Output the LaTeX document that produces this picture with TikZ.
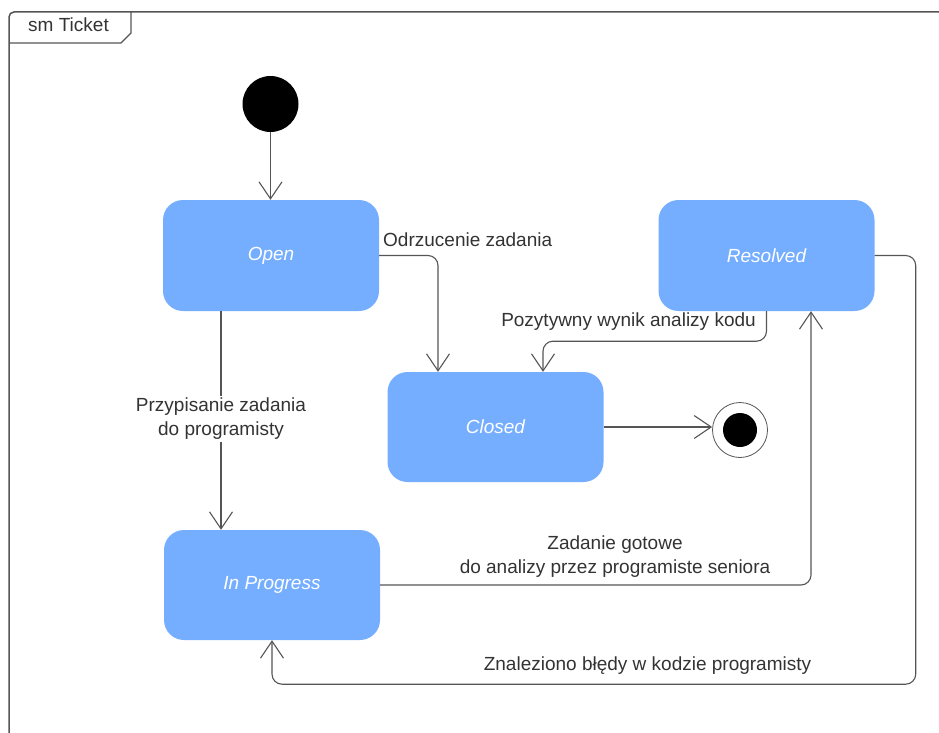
\documentclass[tikz,border=0pt]{standalone}
\usepackage{fontspec}
\setmainfont{Liberation Sans}
\usetikzlibrary{arrows.meta}
\definecolor{statefill}{RGB}{117,174,255}
\definecolor{linegray}{RGB}{85,85,85}
\definecolor{textgray}{RGB}{51,51,51}

\begin{document}
\begin{tikzpicture}[x=1pt,y=-1pt,
  every node/.style={font=\fontsize{19}{24}\selectfont, inner sep=0pt},
  statebox/.style={rectangle, rounded corners=20pt, fill=statefill, text=white,
    font=\fontsize{19}{24}\selectfont\itshape, minimum width=216pt, minimum height=111pt},
  trans/.style={draw=linegray, line width=1.1pt, rounded corners=10pt,
    -{Straight Barb[length=17pt,width=23pt]}},
  lbl/.style={text=textgray, align=center},
]
\useasboundingbox (0,0) rectangle (939,733);
\clip (0,0) rectangle (939,733);

% diagram frame with its name tab
\draw[linegray, line width=1.5pt, rounded corners=5pt] (9,760) -- (9,12) -- (960,12);
\draw[linegray, line width=1.2pt] (9,43) -- (121,43) -- (131,33) -- (131,12);
\node[text=textgray] (frameName) at (68.5,25) {sm Ticket};

% states
\node[statebox] (open) at (271,255.5) {Open};
\node[statebox] (resolved) at (766.5,255.5) {Resolved};
\node[statebox, minimum height=110pt] (closed) at (495.5,427) {Closed};
\node[statebox, minimum height=110pt] (progress) at (272,585) {In Progress};

% pseudo states
\node[circle, fill=black, minimum size=56pt] (init) at (270.5,104) {};
\node[circle, draw=linegray, line width=0.8pt, fill=white, minimum size=55pt] (final) at (740,430) {};
\node[circle, fill=black, minimum size=34pt] (finalDot) at (final.center) {};

% transitions
\draw[trans] (init.south) -- (init.south |- open.north);
\draw[trans] (open.east) -| ([xshift=-57.5pt]closed.north);
\draw[trans] ([xshift=-50pt]open.south) -- ([xshift=-50pt]open.south |- progress.north);
\draw[trans] (resolved.south) -- ++(0,30) -| ([xshift=47.5pt]closed.north);
\draw[trans] (closed.east) -- (closed.east -| final.west);
\draw[trans] (progress.east) -| ([xshift=44.5pt]resolved.south);
\draw[trans] (resolved.east) -- ++(41,0) |- ([yshift=-44pt]progress.south) -- (progress.south);

% transition labels
\node[lbl, anchor=west] (lblReject) at (383,240) {Odrzucenie zadania};
\node[lbl, fill=white, inner sep=2pt] (lblAssign) at (221,419) {Przypisanie zadania\\do programisty};
\node[lbl] (lblPositive) at (628.5,322) {Pozytywny wynik analizy kodu};
\node[lbl] (lblReady) at (615,556.5) {Zadanie gotowe\\do analizy przez programiste seniora};
\node[lbl] (lblBugs) at (647.5,666) {Znaleziono błędy w kodzie programisty};
\end{tikzpicture}
\end{document}
